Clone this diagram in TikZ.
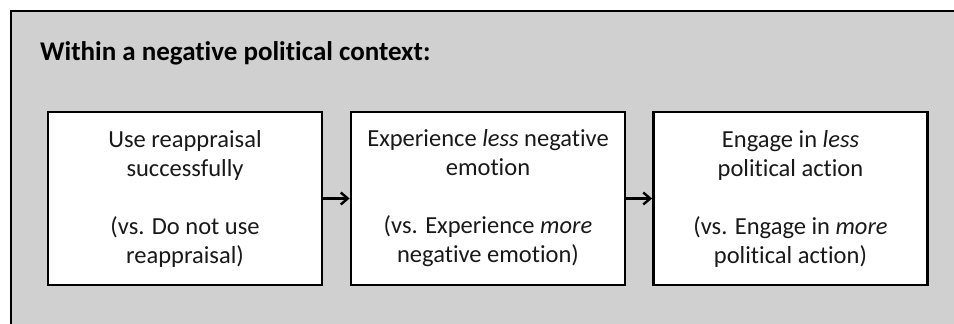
\documentclass[tikz,border=0pt]{standalone}
\usepackage{fontspec}
\setmainfont{Carlito}[Ligatures=NoCommon]
\usetikzlibrary{arrows.meta}
\definecolor{panelgray}{RGB}{208,208,208}
\definecolor{textdark}{RGB}{25,25,25}
\tikzset{
  stagebox/.style={draw=black, line width=2.8pt, fill=white, minimum width=274pt, minimum height=173pt,
    inner sep=0pt, align=center, font=\fontsize{24.5}{29}\selectfont, text=textdark},
  flowarrow/.style={line width=2.6pt, -{Straight Barb[length=7pt,width=12pt,line width=2.4pt]}},
}
\begin{document}
\begin{tikzpicture}[x=1pt,y=-1pt]
\useasboundingbox (0,0) rectangle (954,324);
\clip (0,0) rectangle (954,324);
\draw[line width=2.8pt, fill=panelgray] (11,11) rectangle (970,340);
\node[anchor=base west, inner sep=0pt, font=\fontsize{27}{30}\selectfont\bfseries, text=black] (title) at (40,60) {Within a negative political context:};
\node[stagebox] (b1) at (185,198.5) {Use reappraisal\\successfully\\[29pt](vs. Do not use\\reappraisal)};
\node[stagebox] (b2) at (488,198.5) {Experience \textit{less} negative\\emotion\\[29pt](vs. Experience \textit{more}\\negative emotion)};
\node[stagebox] (b3) at (790.5,198.5) {Engage in \textit{less}\\political action\\[29pt](vs. Engage in \textit{more}\\political action)};
\draw[flowarrow] (b1.east) -- (b2.west);
\draw[flowarrow] (b2.east) -- (b3.west);
\end{tikzpicture}
\end{document}
